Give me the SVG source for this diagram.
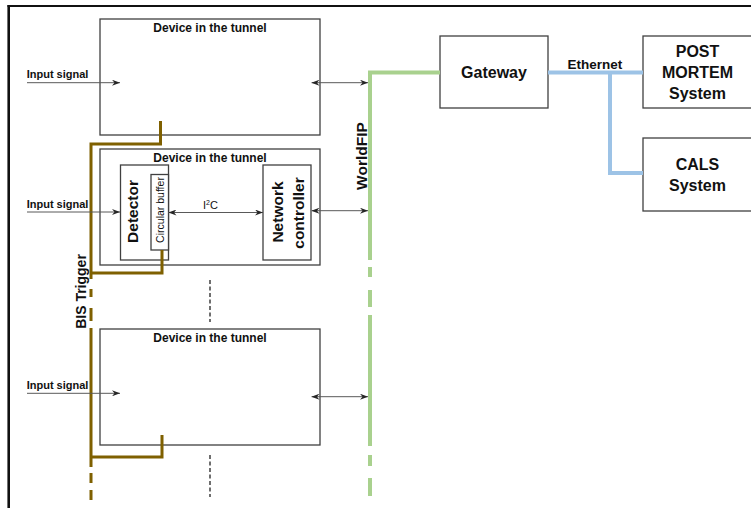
<svg xmlns="http://www.w3.org/2000/svg" width="751" height="508" viewBox="0 0 751 508">
<style>
.box{fill:#fff;stroke:#404040;stroke-width:1.3}
.t{font-family:"Liberation Sans",Arial,sans-serif;fill:#111;text-anchor:middle}
.b{font-weight:bold}
.ti{font-family:"Liberation Sans",Arial,sans-serif;font-weight:bold;font-size:12px;fill:#111;text-anchor:middle}
.in{font-family:"Liberation Sans",Arial,sans-serif;font-weight:bold;font-size:11px;fill:#111}
.ar{stroke:#595959;stroke-width:1;fill:none}
.brown{stroke:#7f6000;stroke-width:3;fill:none}
.green{stroke:#a9d18e;stroke-width:4;fill:none}
.blue{stroke:#9dc3e6;stroke-width:4;fill:none}
.dot{stroke:#222;stroke-width:1.3;stroke-dasharray:4 2.5;fill:none}
</style>
<defs>
<marker id="ah" viewBox="0 0 8 6" refX="8" refY="3" markerWidth="8" markerHeight="6" markerUnits="userSpaceOnUse" orient="auto-start-reverse">
<path d="M0,0 L8,3 L0,6 L2.5,3 z" fill="#262626"/>
</marker>
</defs>
<rect width="751" height="508" fill="#fff"/>
<g id="frame">
<path d="M8.7,5 V508" stroke="#111" stroke-width="2.6"/>
<path d="M7.5,6 H751" stroke="#111" stroke-width="2"/>
</g>

<g id="device1">
<rect class="box" x="100" y="19" width="220" height="116"/>
<text class="ti" x="210" y="32">Device in the tunnel</text>
</g>

<g id="device2">
<rect class="box" x="100" y="149" width="220" height="116"/>
<text class="ti" x="210" y="161.5">Device in the tunnel</text>
</g>
<g id="detector">
<rect class="box" x="120.5" y="165" width="48" height="95"/>
<text class="t b" font-size="15.5" transform="translate(137.5,211.5) rotate(-90)">Detector</text>
</g>
<g id="circular-buffer">
<rect class="box" x="151" y="174.5" width="17.5" height="75.5"/>
<text class="t" font-size="10.5" transform="translate(163.8,210) rotate(-90)">Circular buffer</text>
</g>
<g id="network-controller">
<rect class="box" x="263" y="165" width="48" height="95"/>
<text class="t b" font-size="15.5" transform="translate(283,212) rotate(-90)">Network</text>
<text class="t b" font-size="15.5" transform="translate(304,213) rotate(-90)">controller</text>
</g>

<g id="device3">
<rect class="box" x="100" y="329" width="220" height="116"/>
<text class="ti" x="210" y="342">Device in the tunnel</text>
</g>

<g id="gateway">
<rect class="box" x="440" y="36" width="108" height="72"/>
<text class="t b" font-size="16" x="494" y="78">Gateway</text>
</g>
<g id="post-mortem">
<rect class="box" x="643" y="36" width="120" height="72"/>
<text class="t b" font-size="16" x="697.5" y="56.7">POST</text>
<text class="t b" font-size="16" x="697.5" y="77.7">MORTEM</text>
<text class="t b" font-size="16" x="697.5" y="99.3">System</text>
</g>
<g id="cals">
<rect class="box" x="643" y="138" width="120" height="73"/>
<text class="t b" font-size="16" x="697.5" y="170">CALS</text>
<text class="t b" font-size="16" x="697.5" y="191">System</text>
</g>

<g id="connectors">
<!-- WorldFIP bus -->
<path class="green" d="M440,72.5 H370 V260 M370,267 V277 M370,290 V307 M370,315 V446 M370,455 V466 M370,478 V496"/>
<!-- Ethernet -->
<path class="blue" d="M548,72.5 H643 M610,72.5 V173 H643"/>
<!-- BIS trigger -->
<path class="brown" d="M160.5,121 V144 H91 V279 M91,289 V297 M91,308 V321 M91,328 V467 M91,473 V483 M91,490 V500"/>
<path class="brown" d="M91,273 H162 V250"/>
<path class="brown" d="M91,457 H162 V435"/>
<!-- continuation dots -->
<path class="dot" d="M210,280 V322 M210,455 V497"/>
<!-- input signals -->
<path class="ar" d="M27,82.7 H120" marker-end="url(#ah)"/>
<path class="ar" d="M27,212 H120" marker-end="url(#ah)"/>
<path class="ar" d="M27,393.3 H120" marker-end="url(#ah)"/>
<!-- device to bus -->
<path class="ar" d="M311.5,82.7 H368" marker-start="url(#ah)" marker-end="url(#ah)"/>
<path class="ar" d="M311.5,210.7 H368" marker-start="url(#ah)" marker-end="url(#ah)"/>
<path class="ar" d="M311.5,396.7 H368" marker-start="url(#ah)" marker-end="url(#ah)"/>
<!-- I2C -->
<path class="ar" d="M168.5,212.5 H263" marker-start="url(#ah)" marker-end="url(#ah)"/>
</g>

<g id="labels">
<text class="in" x="26.7" y="78">Input signal</text>
<text class="in" x="26.7" y="208.3">Input signal</text>
<text class="in" x="26.7" y="389">Input signal</text>
<text class="t" font-size="11" x="210.5" y="209.3">I<tspan font-size="7" dy="-4">2</tspan><tspan dy="4">C</tspan></text>
<text class="t b" font-size="13.5" x="595" y="69">Ethernet</text>
<text class="t b" font-size="15.5" transform="translate(367,156) rotate(-90)">WorldFIP</text>
<text class="t b" font-size="14" transform="translate(86,291.5) rotate(-90)">BIS Trigger</text>
</g>
</svg>
